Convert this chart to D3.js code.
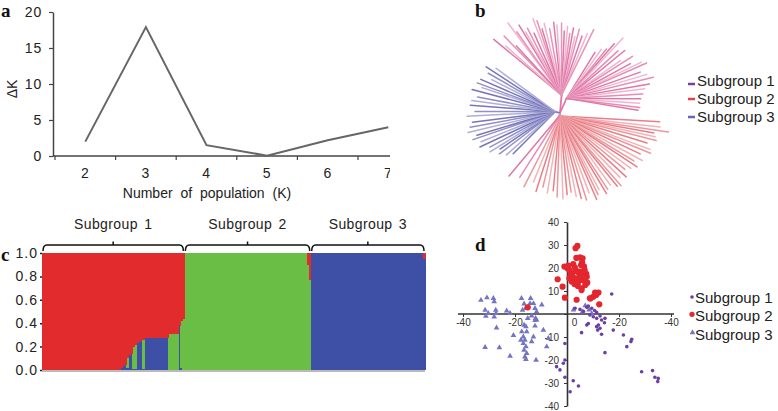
<!DOCTYPE html>
<html>
<head>
<meta charset="utf-8">
<script src="https://cdn.jsdelivr.net/npm/d3@7"></script>
<style>
body { margin: 0; background: #fff; }
svg { display: block; }
text { font-family: Arial, "Liberation Sans", sans-serif; fill: #222; }
.plabel { font-family: "Times New Roman", "Liberation Serif", serif; font-weight: bold; font-size: 19px; fill: #111; }
</style>
</head>
<body>
<svg id="fig" width="778" height="411"></svg>
<script>
// ---------- panel a: delta K
var kValues = [2, 3, 4, 5, 6, 7]
var deltaK = [2.0, 17.9, 1.5, 0.05, 2.2, 4.0]
var deltaKTicks = [0, 5, 10, 15, 20]

// ---------- panel b: tree, tips as [angle deg, radius], nodes as [angle, radius]
var pinkLeftNode = [5, 18]
var pinkLeftTips = [[-42, 99], [-39, 86], [-36, 95], [-33, 80], [-30, 104], [-28, 92], [-25, 97], [-23, 88], [-21, 91],
  [-18, 84], [-16, 98], [-14, 95], [-12, 86], [-10, 91], [-7, 85], [-4, 91], [-2, 88], [1, 90], [3, 82], [5, 87],
  [7, 80], [9, 86], [11, 78], [13, 86], [16, 80], [19, 84], [22, 90]]
var pinkRightNode = [24, 16]
var pinkRightTips = [[30, 70], [33, 76], [36, 79], [38, 88], [40, 98], [43, 85], [46, 90], [49, 80], [52, 92], [55, 86],
  [58, 96], [60, 100], [63, 90], [66, 95], [69, 100], [72, 94], [74, 88], [77, 85], [80, 82], [83, 80], [86, 80], [88, 78]]
var pinkLowTips = [[212, 76], [219, 81]]
var redNode = [180, 3]
var redTips = [[95, 100], [98, 101], [100, 110], [102, 96], [104, 98], [106, 100], [109, 92], [112, 97], [114, 99],
  [117, 90], [120, 95], [123, 88], [125, 94], [128, 90], [131, 86], [134, 92], [137, 88], [140, 95], [142, 93],
  [145, 88], [148, 90], [150, 93], [153, 86], [155, 90], [157, 94], [160, 85], [163, 91], [166, 88], [169, 85],
  [172, 80], [175, 82], [178, 86], [182, 84], [185, 78], [189, 81], [193, 76], [197, 82], [201, 74], [206, 82]]
var blueNode = [285, 5]
var blueTips = [[229, 62], [232, 68], [236, 73], [239, 70], [241, 80], [244, 78], [247, 87], [250, 84], [253, 91],
  [255, 86], [258, 94], [261, 91], [264, 88], [268, 93], [271, 85], [275, 90], [278, 89], [281, 84], [285, 91],
  [288, 82], [290, 88], [293, 86], [296, 76], [299, 82], [302, 87], [305, 78]]
var legendNames = ['Subgroup 1', 'Subgroup 2', 'Subgroup 3']

// ---------- panel c: structure runs [count, red, green, blue]
var sub1Runs = [[39, 1, 0, 0], [1, 0.98, 0, 0.02], [1, 0.97, 0, 0.03], [1, 0.96, 0, 0.04], [1, 0.90, 0.08, 0.02],
  [1, 0.87, 0, 0.13], [1, 0.86, 0, 0.14], [1, 0.80, 0.19, 0.01], [1, 0.79, 0.20, 0.01], [1, 0.77, 0, 0.23],
  [1, 0.76, 0, 0.24], [1, 0.74, 0, 0.26], [1, 0.74, 0.25, 0.01], [12, 0.73, 0, 0.27], [5, 0.69, 0.31, 0],
  [1, 0.62, 0, 0.38], [1, 0.58, 0.40, 0.02], [1, 0.56, 0.44, 0]]
var sub2Runs = [[61, 0, 1, 0], [1, 0.10, 0.90, 0], [1, 0.23, 0.77, 0]]
var sub3Runs = [[56, 0, 0, 1], [1, 0.05, 0, 0.95]]
var qTicks = [0, 0.2, 0.4, 0.6, 0.8, 1.0]

// ---------- panel d: PCA points [pc1, pc2]
var pcaSub1 = [[3.1, 2.5], [5.0, 2.0], [7.6, 2.9], [8.2, 3.5], [9.5, 2.5], [6.3, 1.2], [10.6, 1.5], [11.4, 0.7],
  [8.8, -0.4], [10.1, -1.2], [11.4, -1.9], [12.7, -0.9], [13.3, -2.6], [14.6, -1.9], [14.4, -3.8],
  [8.2, -4.1], [7.6, -4.8], [11.4, -5.5], [12.1, -4.8], [12.7, -6.2], [11.8, -7.0],
  [5.6, -8.1], [13.3, -8.8], [17.8, -7.0], [21.7, -9.1], [24.9, -11.0], [24.6, -12.0], [23.0, -14.2], [14.6, -16.8],
  [-0.8, -12.8], [-0.8, -20.0], [-1.4, -21.4], [-4.0, -22.9], [-2.7, -24.3], [-0.8, -27.5], [2.4, -29.0],
  [4.4, -31.3], [1.2, -33.8], [28.7, -25.1], [32.9, -24.6], [33.8, -27.5], [35.1, -28.0], [34.9, -29.4], [17.2, 8.7]]
var pcaSub2 = [[3.3, 28.6], [4.0, 29.6], [3.6, 24.4], [5.0, 24.6], [6.0, 24.2], [2.4, 21.7], [5.4, 21.3], [6.5, 20.7],
  [-1.0, 20.6], [0.2, 19.9], [6.8, 19.1], [0.9, 19.1], [3.7, 18.7], [5.0, 18.4], [4.4, 18.0], [1.4, 17.0], [5.6, 17.6],
  [7.4, 17.5], [-3.6, 15.1], [0.9, 15.5], [2.4, 15.8], [4.0, 14.8], [6.0, 14.8], [1.8, 16.2], [3.1, 15.5], [7.6, 16.2],
  [1.8, 14.1], [4.4, 14.1], [6.3, 14.8], [6.9, 15.5], [7.8, 13.6], [7.0, 12.6], [-1.7, 11.9], [5.6, 11.2], [5.6, 10.4],
  [10.8, 9.3], [12.1, 9.3], [11.2, 8.3], [9.1, 6.8], [10.1, 7.5], [-0.8, 7.1], [3.7, 6.2], [8.8, 6.8], [12.4, 4.2],
  [-15.1, 2.9], [2.9, 13.0], [4.9, 16.5], [0.5, 21.0], [3.0, 20.3], [5.8, 22.5], [2.2, 18.0], [4.2, 12.2]]
var pcaSub3 = [[-33.1, 6.0], [-30.8, 7.1], [-28.3, 6.8], [-28.0, 5.4], [-31.5, 1.7], [-30.3, 0.3], [-27.4, 1.7],
  [-27.3, 0.3], [-28.0, -1.2], [-31.2, -0.9], [-27.1, -6.0], [-23.2, 1.4], [-31.5, -14.5], [-26.0, -14.6],
  [-21.9, -18.3], [-20.6, -9.3], [-17.5, 6.8], [-14.0, 6.8], [-16.5, 4.4], [-14.2, 4.6], [-15.9, 2.5], [-17.1, 1.7],
  [-12.3, 2.5], [-12.9, 4.6], [-9.7, 4.0], [-11.7, 1.0], [-13.6, -0.8], [-12.1, -1.9], [-15.1, -1.9], [-12.3, -2.8],
  [-11.7, -2.6], [-16.5, -4.8], [-15.8, -5.5], [-12.3, -5.2], [-17.4, -7.7], [-15.5, -7.7], [-12.9, -9.9],
  [-13.6, -12.0], [-16.8, -9.9], [-16.2, -11.3], [-16.8, -12.8], [-15.8, -14.2], [-16.5, -15.7], [-15.5, -17.1],
  [-16.2, -18.6], [-15.8, -19.7], [-11.9, -20.0], [-7.8, -14.2], [-7.2, -10.6], [-9.1, -7.0], [-21.9, 0.3],
  [-17.7, -11.3], [2.5, 1.8], [6.0, 1.0], [8.5, 1.8], [7.0, 3.6], [9.5, 0.2]]
var pcaXTicks = [-40, -20, 0, 20, 40]
var pcaXLabels = ['-40', '-20', '0', '-20', '-40']
var pcaYTicks = [-40, -30, -20, -10, 0, 10, 20, 30, 40]

var svg = d3.select('#fig')
var axisColor = '#444'

// ===================== panel a
var clipA = svg.append('clipPath').attr('id', 'clipA')
clipA.append('rect').attr('x', 0).attr('y', 0).attr('width', 390).attr('height', 210)
var gA = svg.append('g').attr('clip-path', 'url(#clipA)')

var xA = d3.scaleBand().domain(kValues).range([55, 418.6])
var yA = d3.scaleLinear().domain([0, 20]).range([156, 12])

gA.append('line').attr('x1', 53).attr('x2', 420).attr('y1', yA(0)).attr('y2', yA(0))
  .style('stroke', axisColor).style('stroke-width', 1.5)
gA.selectAll('.xtickA').data(kValues).enter().append('line')
  .attr('x1', d => xA(d)).attr('x2', d => xA(d)).attr('y1', yA(0)).attr('y2', yA(0) + 4)
  .style('stroke', axisColor).style('stroke-width', 1.2)

var axA = gA.append('g').attr('transform', 'translate(0,' + yA(0) + ')')
  .call(d3.axisBottom(xA).tickSize(0).tickPadding(12))
axA.select('.domain').remove()
axA.selectAll('text').style('font-size', '14px').style('letter-spacing', '0.8px').style('fill', '#222')

var ayA = gA.append('g').attr('transform', 'translate(53,0)')
  .call(d3.axisLeft(yA).tickValues(deltaKTicks).tickSize(4).tickSizeOuter(0).tickPadding(7))
ayA.select('.domain').style('stroke', axisColor).style('stroke-width', 1.5)
ayA.selectAll('line').style('stroke', axisColor).style('stroke-width', 1.2)
ayA.selectAll('text').style('font-size', '14px').style('letter-spacing', '0.8px').style('fill', '#222')

var lineA = d3.line().x((d, i) => xA(kValues[i]) + xA.bandwidth() / 2).y(d => yA(d))
gA.append('path').attr('d', lineA(deltaK))
  .style('fill', 'none').style('stroke', '#666').style('stroke-width', 2)

svg.append('text').attr('transform', 'translate(17,89) rotate(-90)').attr('text-anchor', 'middle')
  .style('font-size', '14px').text('ΔK')
svg.append('text').attr('x', 207).attr('y', 198).attr('text-anchor', 'middle')
  .style('font-size', '14px').style('word-spacing', '4px').text('Number of population (K)')
svg.append('text').attr('class', 'plabel').attr('x', 1).attr('y', 17).text('a')

// ===================== panel b
var cx = 560
var cy = 113
var rB = d3.scaleLinear().domain([0, 100]).range([0, 100])
var polar = function (a, r) {
  var p = d3.pointRadial(a * Math.PI / 180, rB(r))
  return [cx + p[0], cy + p[1]]
}
var gB = svg.append('g')
var drawClade = function (node, tips, shades) {
  var n = polar(node[0], node[1])
  gB.append('line').attr('x1', cx).attr('y1', cy).attr('x2', n[0]).attr('y2', n[1])
    .style('stroke', shades[0]).style('stroke-width', 1.8)
  tips.forEach(function (t, i) {
    var p = polar(t[0], t[1])
    gB.append('line').attr('x1', n[0]).attr('y1', n[1]).attr('x2', p[0]).attr('y2', p[1])
      .style('stroke', shades[i % shades.length]).style('stroke-width', 1.5)
      .style('stroke-linecap', 'round')
  })
}
drawClade(pinkLeftNode, pinkLeftTips, ['#de78a6', '#f1b3ce', '#e893b9'])
drawClade(pinkRightNode, pinkRightTips, ['#de78a6', '#f2b6d0', '#e68db5'])
drawClade(blueNode, blueTips, ['#7676b9', '#aeaed9', '#9090c8'])
drawClade(redNode, redTips, ['#e87f88', '#f3b4b7', '#ed979d'])
drawClade([200, 4], pinkLowTips, ['#e68db5', '#de78a6'])

var legendBColors = ['#7d3d9c', '#e2404e', '#6a66b2']
var legB = svg.append('g')
legendNames.forEach(function (name, i) {
  var by = 86 + i * 18
  legB.append('line').attr('x1', 688).attr('x2', 695).attr('y1', by - (i === 0 ? 2 : 5)).attr('y2', by - (i === 0 ? 2 : 5))
    .style('stroke', legendBColors[i]).style('stroke-width', 2.5)
  legB.append('text').attr('x', 697).attr('y', by).style('font-size', '15px').text(name)
})
svg.append('text').attr('class', 'plabel').attr('x', 475).attr('y', 17).text('b')

// ===================== panel c
var individuals = []
var groupStarts = []
;[sub1Runs, sub2Runs, sub3Runs].forEach(function (runs, g) {
  groupStarts.push(individuals.length)
  runs.forEach(function (run) {
    for (var i = 0; i < run[0]; i++) {
      individuals.push({ group: g, red: run[1], green: run[2], blue: run[3] })
    }
  })
})
groupStarts.push(individuals.length)

var xC = d3.scaleLinear().domain([0, individuals.length]).range([42, 425])
var yC = d3.scaleLinear().domain([0, 1]).range([370, 253])
var structColors = { red: '#e22b2d', green: '#6abd45', blue: '#3d50a5' }
var stacked = d3.stack().keys(['blue', 'green', 'red'])(individuals)

var gC = svg.append('g').attr('shape-rendering', 'crispEdges')
stacked.forEach(function (layer) {
  gC.selectAll('.r-' + layer.key).data(layer).enter().append('rect')
    .attr('x', (d, i) => xC(i))
    .attr('width', (d, i) => xC(i + 1) - xC(i) + 0.6)
    .attr('y', d => yC(d[1]))
    .attr('height', d => Math.max(0, yC(d[0]) - yC(d[1])))
    .style('fill', structColors[layer.key])
})
svg.append('line').attr('x1', 42).attr('x2', 425).attr('y1', 371).attr('y2', 371)
  .style('stroke', '#777').style('stroke-width', 1.2)

var ayC = svg.append('g').attr('transform', 'translate(42,0)')
  .call(d3.axisLeft(yC).tickValues(qTicks).tickSize(2).tickSizeOuter(0).tickPadding(2).tickFormat(d3.format('.1f')))
ayC.select('.domain').remove()
ayC.selectAll('line').style('stroke', '#222').style('stroke-width', 1.5)
ayC.selectAll('text').style('font-size', '14px').style('letter-spacing', '1px').style('fill', '#222')

var gBr = svg.append('g')
legendNames.forEach(function (name, g) {
  var x0 = xC(groupStarts[g]) + 1
  var x1 = xC(groupStarts[g + 1]) - 1
  var xm = (x0 + x1) / 2
  var p = d3.path()
  p.moveTo(x0, 251)
  p.quadraticCurveTo(x0, 245, x0 + 4, 245)
  p.lineTo(xm, 245)
  p.moveTo(xm, 245)
  p.lineTo(xm, 241.5)
  p.moveTo(xm, 245)
  p.lineTo(x1 - 4, 245)
  p.quadraticCurveTo(x1, 245, x1, 251)
  gBr.append('path').attr('d', p.toString())
    .style('fill', 'none').style('stroke', '#111').style('stroke-width', 1.5)
  gBr.append('text').attr('x', xm).attr('y', 229).attr('text-anchor', 'middle')
    .style('font-size', '14px').style('letter-spacing', '0.4px').style('word-spacing', '2px').text(name)
})
svg.append('text').attr('class', 'plabel').attr('x', 1).attr('y', 261).text('c')

// ===================== panel d
var xD = d3.scaleLinear().domain([-40, 40]).range([463, 671])
var yD = d3.scaleLinear().domain([-40, 40]).range([406, 222])

var axD = svg.append('g').attr('transform', 'translate(0,' + yD(0) + ')')
  .call(d3.axisBottom(xD).tickValues(pcaXTicks).tickSize(3).tickSizeOuter(0).tickPadding(2)
    .tickFormat((d, i) => pcaXLabels[i]))
axD.select('.domain').attr('d', 'M' + (xD(-40) - 5) + ',0H' + (xD(40) + 3))
  .style('stroke', '#333').style('stroke-width', 1.6)
axD.selectAll('line').style('stroke', '#333')
axD.selectAll('text').style('font-size', '10px').style('fill', '#333')
axD.selectAll('.tick').filter(d => d === 0).select('text').attr('x', 7)

var ayD = svg.append('g').attr('transform', 'translate(' + xD(0) + ',0)')
  .call(d3.axisLeft(yD).tickValues(pcaYTicks).tickSize(3).tickSizeOuter(0).tickPadding(5)
    .tickFormat(d => d === 0 ? '' : d))
ayD.select('.domain').style('stroke', '#333').style('stroke-width', 1.6)
ayD.selectAll('line').style('stroke', '#333')
ayD.selectAll('text').style('font-size', '10px').style('fill', '#333')

var gD = svg.append('g')
var triangle = d3.symbol().type(d3.symbolTriangle).size(14)
gD.selectAll('.s3').data(pcaSub3).enter().append('path')
  .attr('d', triangle)
  .attr('transform', d => 'translate(' + xD(d[0]) + ',' + yD(d[1]) + ')')
  .style('fill', '#7474c4')
gD.selectAll('.s1').data(pcaSub1).enter().append('circle')
  .attr('cx', d => xD(d[0])).attr('cy', d => yD(d[1])).attr('r', 1.8)
  .style('fill', '#6b3fa3')
gD.selectAll('.s2').data(pcaSub2).enter().append('circle')
  .attr('cx', d => xD(d[0])).attr('cy', d => yD(d[1])).attr('r', 3.1)
  .style('fill', '#e4262e')

var legD = svg.append('g')
legendNames.forEach(function (name, i) {
  var by = 303 + i * 18.3
  if (i === 0) {
    legD.append('circle').attr('cx', 692).attr('cy', by - 6).attr('r', 1.8).style('fill', '#6b3fa3')
  } else if (i === 1) {
    legD.append('circle').attr('cx', 692).attr('cy', by - 7).attr('r', 2.6).style('fill', '#e4262e')
  } else {
    legD.append('path').attr('d', triangle).attr('transform', 'translate(692.5,' + (by - 7) + ')').style('fill', '#7474c4')
  }
  legD.append('text').attr('x', 695).attr('y', by).style('font-size', '15px').text(name)
})
svg.append('text').attr('class', 'plabel').attr('x', 475).attr('y', 251).text('d')
</script>
</body>
</html>
